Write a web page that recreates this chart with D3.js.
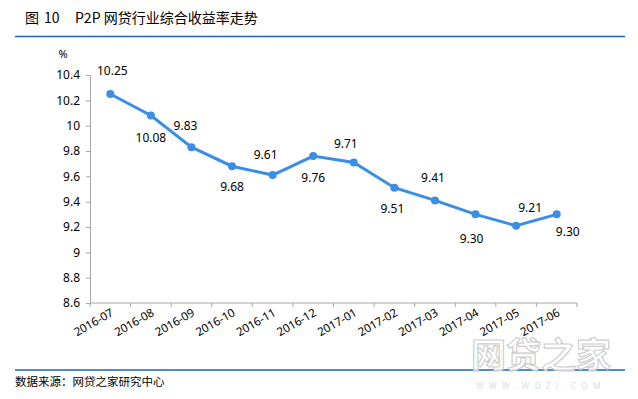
<!DOCTYPE html>
<html>
<head>
<meta charset="utf-8">
<script src="https://cdn.jsdelivr.net/npm/d3@7"></script>
<style>
  body { margin: 0; background: #fff; }
  text { font-family: "Noto Sans CJK SC", "Noto Sans", sans-serif; fill: #000; }
</style>
</head>
<body>
<div id="chart"></div>
<script>
// months on the x axis
const months = ['2016-07', '2016-08', '2016-09', '2016-10', '2016-11', '2016-12',
    '2017-01', '2017-02', '2017-03', '2017-04', '2017-05', '2017-06'];

// composite yield, %
const yields = [10.25, 10.08, 9.83, 9.68, 9.61, 9.76, 9.71, 9.51, 9.41, 9.30, 9.21, 9.30];

// y axis ticks
const yTicks = [8.6, 8.8, 9, 9.2, 9.4, 9.6, 9.8, 10, 10.2, 10.4];

const svgWidth = 638;
const svgHeight = 399;
const lineColor = '#3a8ee6';
const axisColor = '#a6a6a6';

const plot = { left: 90, right: 577, top: 75, bottom: 303 };

const svg = d3.select('#chart')
    .append('svg')
    .attr('width', svgWidth)
    .attr('height', svgHeight);

// x band scale, y linear scale
const x = d3.scaleBand()
    .domain(months)
    .range([plot.left, plot.right]);

const y = d3.scaleLinear()
    .domain([8.6, 10.4])
    .range([plot.bottom, plot.top]);

// title and rules
const title = svg.append('text')
    .attr('y', 23)
    .style('font-size', '14px');
title.append('tspan').attr('x', 25).text('图');
title.append('tspan').attr('x', 44).text('10');
title.append('tspan').attr('x', 75).text('P2P 网贷行业综合收益率走势');

svg.append('line')
    .attr('x1', 15).attr('x2', 625)
    .attr('y1', 36.5).attr('y2', 36.5)
    .style('stroke', '#1a64c0')
    .style('stroke-width', 1.5);

svg.append('line')
    .attr('x1', 15).attr('x2', 625)
    .attr('y1', 370).attr('y2', 370)
    .style('stroke', '#1a64c0')
    .style('stroke-width', 1.5);

svg.append('text')
    .attr('x', 15)
    .attr('y', 386)
    .style('font-size', '11.5px')
    .text('数据来源：网贷之家研究中心');

// y axis
const yAxis = svg.append('g')
    .attr('transform', `translate(${plot.left}, 0)`)
    .call(d3.axisLeft(y).tickValues(yTicks).tickSize(4).tickPadding(6).tickFormat(d3.format('')));

yAxis.selectAll('path, line').style('stroke', axisColor);
yAxis.selectAll('text')
    .style('font-size', '12px')
    .style('font-family', '"Noto Sans", sans-serif');

svg.append('text')
    .attr('x', 63)
    .attr('y', 58)
    .attr('text-anchor', 'middle')
    .style('font-size', '11px')
    .style('font-family', '"Noto Sans", sans-serif')
    .text('%');

// x axis, ticks on band edges
const xAxis = svg.append('g')
    .attr('transform', `translate(0, ${plot.bottom})`);

xAxis.append('line')
    .attr('x1', plot.left).attr('x2', plot.right)
    .style('stroke', axisColor);

xAxis.selectAll('.edge')
    .data(months.concat(['end']))
    .enter().append('line')
    .attr('class', 'edge')
    .attr('x1', (d, i) => plot.left + i * x.bandwidth())
    .attr('x2', (d, i) => plot.left + i * x.bandwidth())
    .attr('y1', 0).attr('y2', 4)
    .style('stroke', axisColor);

xAxis.selectAll('.month')
    .data(months)
    .enter().append('text')
    .attr('class', 'month')
    .attr('text-anchor', 'end')
    .attr('transform', d => `translate(${x(d) + x.bandwidth() / 2 + 4}, 12) rotate(-30)`)
    .style('font-size', '11.5px')
    .style('font-family', '"Noto Sans", sans-serif')
    .text(d => d);

// line and markers
const line = d3.line()
    .x((d, i) => x(months[i]) + x.bandwidth() / 2)
    .y(d => y(d));

svg.append('path')
    .datum(yields)
    .attr('d', line)
    .style('fill', 'none')
    .style('stroke', lineColor)
    .style('stroke-width', 3);

svg.selectAll('.dot')
    .data(yields)
    .enter().append('circle')
    .attr('class', 'dot')
    .attr('cx', (d, i) => x(months[i]) + x.bandwidth() / 2)
    .attr('cy', d => y(d))
    .attr('r', 4)
    .style('fill', lineColor);

// label offsets (dx, dy) from each point
const labelOffset = [[2, -23], [0, 22], [-6, -21], [0, 21], [-7, -20], [0, 22],
    [-8, -19], [-2, 21], [-2, -23], [-4, 24], [14, -18], [11, 17]];

svg.selectAll('.value')
    .data(yields)
    .enter().append('text')
    .attr('class', 'value')
    .attr('x', (d, i) => x(months[i]) + x.bandwidth() / 2 + labelOffset[i][0])
    .attr('y', (d, i) => y(d) + labelOffset[i][1])
    .attr('dy', '0.35em')
    .attr('text-anchor', 'middle')
    .style('font-size', '12px')
    .style('font-family', '"Noto Sans", sans-serif')
    .text(d => d.toFixed(2));

// watermark
svg.append('text')
    .attr('x', 541)
    .attr('y', 368)
    .attr('text-anchor', 'middle')
    .style('font-size', '35px')
    .style('font-weight', 'bold')
    .style('fill', '#fff')
    .style('fill-opacity', 0.75)
    .style('stroke', '#cfcfcf')
    .style('stroke-width', 1.2)
    .text('网贷之家');

svg.append('text')
    .attr('x', 541)
    .attr('y', 389)
    .attr('text-anchor', 'middle')
    .style('font-size', '8px')
    .style('letter-spacing', '5.5px')
    .style('font-family', '"Noto Sans", sans-serif')
    .style('fill', '#dcdcdc')
    .text('WWW.WDZJ.COM');
</script>
</body>
</html>
